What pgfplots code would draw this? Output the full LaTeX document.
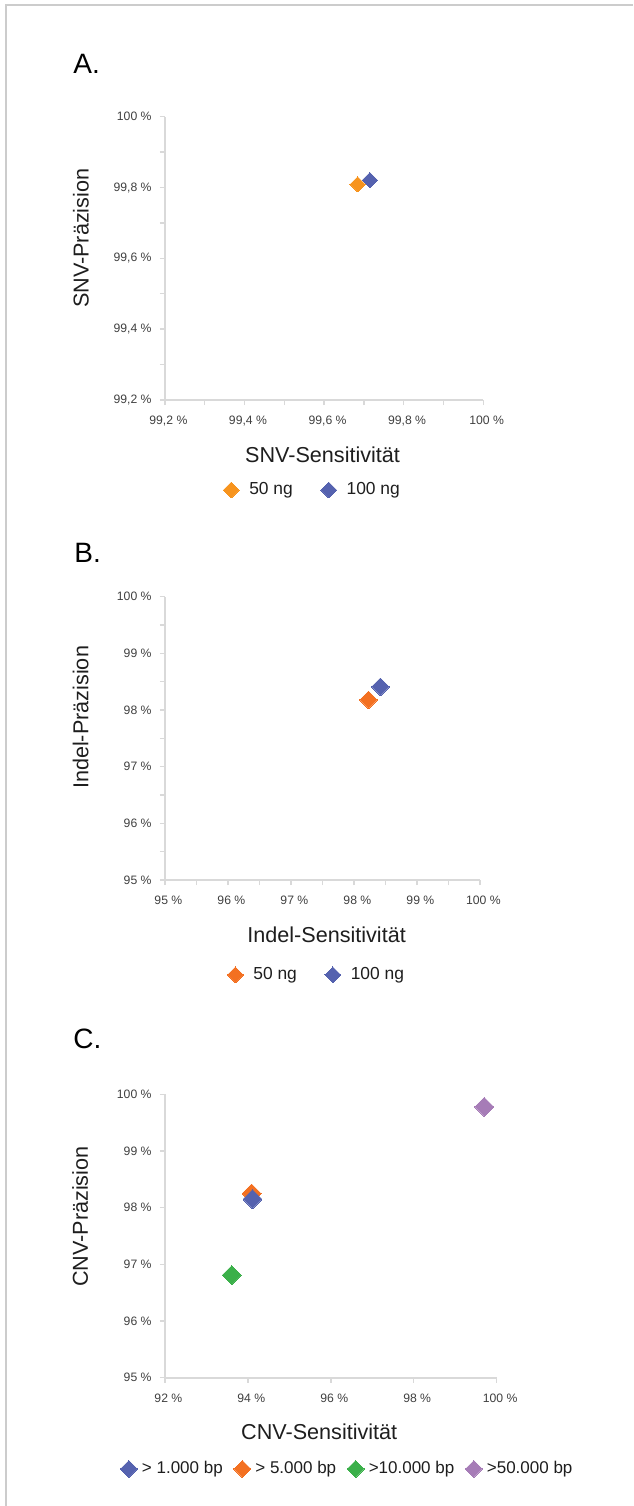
\documentclass[border=0pt]{standalone}
\usepackage{fontspec}
\setmainfont{Liberation Sans}
\usepackage{pgfplots}
\pgfplotsset{compat=1.18}

\definecolor{orangeA}{RGB}{247,148,30}
\definecolor{orangeB}{RGB}{243,112,33}
\definecolor{blueS}{RGB}{85,98,175}
\definecolor{greenS}{RGB}{59,176,74}
\definecolor{purpleS}{RGB}{166,124,183}
\definecolor{axgray}{RGB}{217,217,217}
\definecolor{framegray}{RGB}{204,204,204}
\definecolor{tickgray}{RGB}{64,64,64}
\definecolor{labgray}{RGB}{30,30,30}

\newcommand\legms{2.8pt}

\pgfplotsset{
  panel/.style={
    scale only axis, clip=false,
    axis x line*=bottom, axis y line*=left,
    axis line style={draw=axgray, line width=0.8pt},
    tick style={draw=axgray, line width=0.7pt},
    tick align=outside, major tick length=2.6pt, minor tick length=2.6pt,
    ticklabel style={font=\fontsize{6.1}{7}\selectfont, text=tickgray},
    xticklabel style={yshift=-2pt, xshift=1.7pt},
    yticklabel style={xshift=-0.6pt},
    xticklabel={\pgfmathprintnumber[assume math mode=true,use comma,fixed,precision=1]{\tick}~\%},
    yticklabel={\pgfmathprintnumber[assume math mode=true,use comma,fixed,precision=1]{\tick}~\%},
    xlabel style={font=\fontsize{10.8}{12}\selectfont, text=labgray, anchor=center},
    ylabel style={font=\fontsize{10.8}{12}\selectfont, text=labgray, anchor=center},
    legend style={draw=none, fill=none, anchor=center,
      font=\fontsize{8.7}{10}\selectfont, text=labgray, legend columns=-1,
      /tikz/every odd column/.append style={column sep=3pt},
      /tikz/every even column/.append style={column sep=12pt}},
  },
  pt/.style={only marks, mark=square*,
    mark options={rotate=45, fill=#1, draw=#1, line width=0pt},
    legend image code/.code={\draw[##1, mark size=\legms] plot coordinates {(0pt,0pt)};}},
}

\begin{document}
\begin{tikzpicture}
\path[use as bounding box] (0pt,0pt) rectangle (316.5pt,-753pt);
\draw[framegray, line width=1pt] (3pt,-753pt) -- (3pt,-2.5pt) -- (316.5pt,-2.5pt);

\node[anchor=base west, inner sep=0, font=\fontsize{14}{16}\selectfont] at (36.5pt,-36.5pt) {A.};
\node[anchor=base west, inner sep=0, font=\fontsize{14}{16}\selectfont] at (37pt,-281.2pt) {B.};
\node[anchor=base west, inner sep=0, font=\fontsize{14}{16}\selectfont] at (36.5pt,-524.2pt) {C.};

% A: SNV
\begin{axis}[panel, at={(82.5pt,-58.35pt)}, anchor=north west,
  width=159.15pt, height=141.65pt,
  xmin=99.2, xmax=100, ymin=99.2, ymax=100,
  xtick={99.2,99.4,99.6,99.8,100}, minor xtick={99.3,99.5,99.7,99.9},
  ytick={99.2,99.4,99.6,99.8,100}, minor ytick={99.3,99.5,99.7,99.9},
  xlabel={SNV-Sensitivität}, ylabel={SNV-Präzision},
  xlabel style={at={(axis description cs:0.495,-0.194)}},
  ylabel style={at={(axis description cs:-0.264,0.571)}},
  legend style={at={(axis description cs:0.467,-0.318)}},
  every axis plot/.append style={mark size=2.7pt}]
\addplot[pt=orangeA] coordinates {(99.684,99.809)};
\addlegendentry{50 ng}
\addplot[pt=blueS] coordinates {(99.715,99.821)};
\addlegendentry{100 ng}
\end{axis}

% B: Indel
\begin{axis}[panel, at={(82.5pt,-298.35pt)}, anchor=north west,
  width=157.5pt, height=141.65pt,
  xmin=95, xmax=100, ymin=95, ymax=100,
  xtick={95,96,97,98,99,100}, minor xtick={95.5,96.5,97.5,98.5,99.5},
  ytick={95,96,97,98,99,100}, minor ytick={95.5,96.5,97.5,98.5,99.5},
  xlabel={Indel-Sensitivität}, ylabel={Indel-Präzision},
  xlabel style={at={(axis description cs:0.513,-0.194)}},
  ylabel style={at={(axis description cs:-0.268,0.574)}},
  legend style={at={(axis description cs:0.485,-0.335)}},
  every axis plot/.append style={mark size=3.1pt}]
\addplot[pt=orangeB] coordinates {(98.23,98.18)};
\addlegendentry{50 ng}
\addplot[pt=blueS] coordinates {(98.42,98.41)};
\addlegendentry{100 ng}
\end{axis}

% C: CNV
\renewcommand\legms{3pt}
\begin{axis}[panel, at={(82.5pt,-547.15pt)}, anchor=north west,
  width=165.85pt, height=141.7pt,
  xmin=92, xmax=100, ymin=95, ymax=100,
  xtick={92,94,96,98,100},
  ytick={95,96,97,98,99,100},
  xlabel={CNV-Sensitivität}, ylabel={CNV-Präzision},
  xlabel style={at={(axis description cs:0.465,-0.191)}},
  ylabel style={at={(axis description cs:-0.256,0.568)}},
  legend style={at={(axis description cs:0.553,-0.322)},
    font=\fontsize{8.5}{10}\selectfont,
    /tikz/every odd column/.append style={column sep=0.3pt},
    /tikz/every even column/.append style={column sep=3.5pt}},
  every axis plot/.append style={mark size=3.35pt}]
\addlegendimage{pt=blueS}
\addlegendentry{> 1.000 bp}
\addlegendimage{pt=orangeB}
\addlegendentry{> 5.000 bp}
\addlegendimage{pt=greenS}
\addlegendentry{>10.000 bp}
\addlegendimage{pt=purpleS}
\addlegendentry{>50.000 bp}
\addplot[pt=orangeB, forget plot] coordinates {(94.09,98.25)};
\addplot[pt=blueS, forget plot] coordinates {(94.11,98.15)};
\addplot[pt=greenS, forget plot] coordinates {(93.61,96.81)};
\addplot[pt=purpleS, forget plot] coordinates {(99.70,99.78)};
\end{axis}
\end{tikzpicture}
\end{document}
